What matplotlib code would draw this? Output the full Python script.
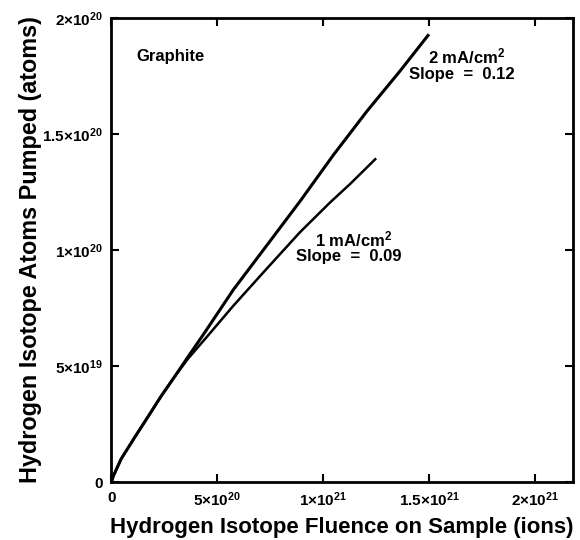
import matplotlib
matplotlib.use("Agg")
import matplotlib.pyplot as plt

plt.rcParams['font.family'] = ['Liberation Sans', 'DejaVu Sans']
plt.rcParams['font.weight'] = 'bold'
plt.rcParams['mathtext.fontset'] = 'custom'
plt.rcParams['mathtext.bf'] = 'Liberation Sans:bold'
plt.rcParams['mathtext.rm'] = 'Liberation Sans:bold'
plt.rcParams['mathtext.default'] = 'bf'

# Data (fluence in ions, pumped atoms)
x_2mA = [0, 0.010e21, 0.046e21, 0.110e21, 0.173e21, 0.236e21, 0.299e21, 0.362e21,
         0.441e21, 0.576e21, 0.734e21, 0.891e21, 1.049e21, 1.207e21, 1.364e21, 1.495e21]
y_2mA = [0, 0.028e20, 0.100e20, 0.193e20, 0.282e20, 0.372e20, 0.455e20, 0.540e20,
         0.645e20, 0.829e20, 1.020e20, 1.210e20, 1.410e20, 1.598e20, 1.772e20, 1.924e20]

x_1mA = [0, 0.010e21, 0.046e21, 0.110e21, 0.173e21, 0.236e21, 0.299e21, 0.362e21,
         0.450e21, 0.576e21, 0.734e21, 0.891e21, 1.033e21, 1.128e21, 1.246e21]
y_1mA = [0, 0.028e20, 0.100e20, 0.193e20, 0.282e20, 0.372e20, 0.455e20, 0.532e20,
         0.625e20, 0.760e20, 0.920e20, 1.077e20, 1.205e20, 1.285e20, 1.391e20]

x_ticks = [0, 5e20, 1e21, 1.5e21, 2e21]
x_ticklabels = ['0', r'5$\times$10$^{20}$', r'1$\times$10$^{21}$',
                r'1.5$\times$10$^{21}$', r'2$\times$10$^{21}$']
y_ticks = [0, 5e19, 1e20, 1.5e20, 2e20]
y_ticklabels = ['0', r'5$\times$10$^{19}$', r'1$\times$10$^{20}$',
                r'1.5$\times$10$^{20}$', r'2$\times$10$^{20}$']

fig = plt.figure(figsize=(5.8, 5.4), dpi=100)
ax = fig.add_axes([0.192, 0.107, 0.796, 0.860])

ax.plot(x_2mA, y_2mA, color='black', lw=2.2, solid_joinstyle='round')
ax.plot(x_1mA, y_1mA, color='black', lw=1.8, solid_joinstyle='round')

ax.set_xlim(0, 2.18e21)
ax.set_ylim(0, 2e20)
ax.set_xticks(x_ticks)
ax.set_xticklabels(x_ticklabels, fontsize=11, fontweight='bold')
ax.set_yticks(y_ticks)
ax.set_yticklabels(y_ticklabels, fontsize=11, fontweight='bold')
ax.tick_params(direction='in', length=6, width=1.5, top=True, right=True, pad=6)
for s in ax.spines.values():
    s.set_linewidth(2)

ax.set_xlabel('Hydrogen Isotope Fluence on Sample (ions)', fontsize=16,
              fontweight='bold', labelpad=6)
ax.set_ylabel('Hydrogen Isotope Atoms Pumped (atoms)', fontsize=16.8,
              fontweight='bold', labelpad=0)

kw = dict(transform=ax.transAxes, fontsize=12, fontweight='bold', va='center', ha='left')
ax.text(0.055, 0.916, 'Graphite', **kw)
ax.text(0.685, 0.917, r'2 mA/cm$^{2}$', **kw)
ax.text(0.645, 0.879, 'Slope  =  0.12', **kw)
ax.text(0.441, 0.522, r'1 mA/cm$^{2}$', **kw)
ax.text(0.400, 0.486, 'Slope  =  0.09', **kw)

fig.savefig('out.png', dpi=100)
